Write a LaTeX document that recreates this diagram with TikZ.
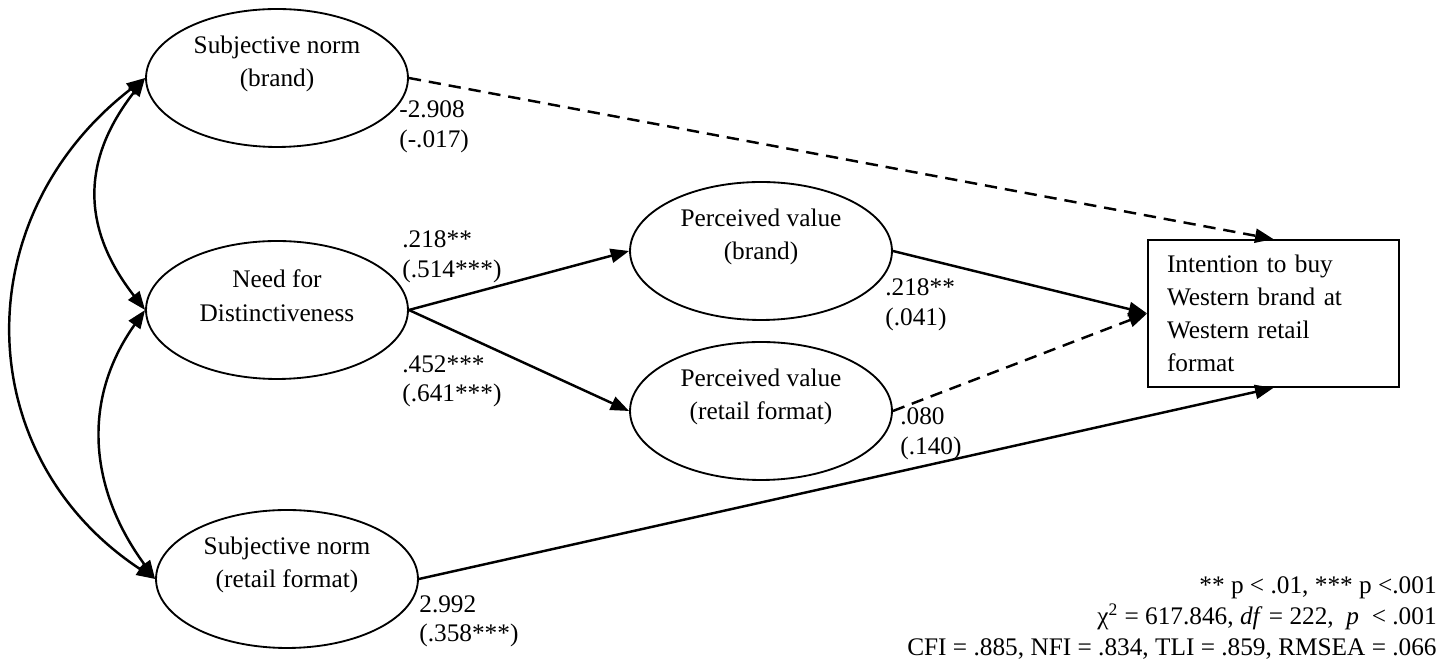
\documentclass[tikz,border=0pt]{standalone}
\usepackage{fontspec}
\setmainfont{Liberation Serif}
\usetikzlibrary{arrows.meta,shapes.geometric}
\begin{document}
\begin{tikzpicture}[x=0.02cm,y=0.02cm,
  >={Triangle[length=10.5pt,width=8pt]},
  latent/.style={ellipse,draw,line width=1.05pt,minimum width=5.24cm,
    minimum height=2.76cm,inner sep=0pt},
  ltext/.style={align=center,font=\fontsize{14.4}{19.3}\selectfont,yshift=8pt},
  observed/.style={rectangle,draw,line width=1pt,minimum width=5.02cm,
    minimum height=2.94cm,inner xsep=0.38cm,text width=4.26cm,align=left,
    font=\fontsize{14.4}{18.8}\selectfont},
  coef/.style={anchor=north west,inner sep=0pt,align=left,
    font=\fontsize{14.4}{17}\selectfont},
  legend/.style={anchor=base east,inner sep=0pt,font=\fontsize{14.4}{17}\selectfont},
  path/.style={->,line width=1.4pt},
  dashline/.style={dash pattern=on 7pt off 4.5pt},
  cov/.style={<->,line width=1.4pt}
]
\useasboundingbox (0,0) rectangle (1448,662);

% latent constructs
\node[latent,label={[ltext]center:Subjective norm\\(brand)}] (snb) at (277,584) {};
\node[latent,label={[ltext]center:Need for\\Distinctiveness}] (ndf) at (277,352) {};
\node[latent,label={[ltext]center:Subjective norm\\(retail format)}] (snr) at (287,83) {};
\node[latent,label={[ltext]center:Perceived value\\(brand)}] (pvb) at (761,411) {};
\node[latent,label={[ltext]center:Perceived value\\(retail format)}] (pvr) at (761,251) {};

% outcome
\node[observed] (out) at (1273.5,348.5)
  {Intention to buy\\Western brand at\\Western retail\\format};

% covariances
\draw[cov] (snb.west) .. controls +(-64,-82) and +(-64,82) .. (ndf.west);
\draw[cov] (ndf.west) .. controls +(-64,-90) and +(-66,90) .. (snr.west);
\draw[cov] (snb.west) .. controls +(-181,-140) and +(-185,122) .. (snr.west);

% structural paths
\draw[path] (ndf.east) -- (pvb.west);
\draw[path] (ndf.east) -- (pvr.west);
\draw[path] (pvb.east) -- (out.west);
\draw[path,dashline] (pvr.east) -- (out.west);
\draw[path,dashline] (snb.east) -- (out.north);
\draw[path] (snr.east) -- (out.south);

% path coefficients
\node[coef] (c1) at (399,562) {-2.908\\(-.017)};
\node[coef] (c2) at (402,432) {.218**\\(.514***)};
\node[coef] (c3) at (402,307) {.452***\\(.641***)};
\node[coef] (c4) at (885,384) {.218**\\(.041)};
\node[coef] (c5) at (900,255) {.080\\(.140)};
\node[coef] (c6) at (419,67) {2.992\\(.358***)};

% fit statistics
\node[legend] (l1) at (1437,68) {** p < .01, *** p <.001};
\node[legend] (l2) at (1437,37) {χ\textsuperscript{2} = 617.846, \textit{df} = 222,\ \ \textit{p} \ < .001};
\node[legend] (l3) at (1437,6) {CFI = .885, NFI = .834, TLI = .859, RMSEA = .066};
\end{tikzpicture}
\end{document}
